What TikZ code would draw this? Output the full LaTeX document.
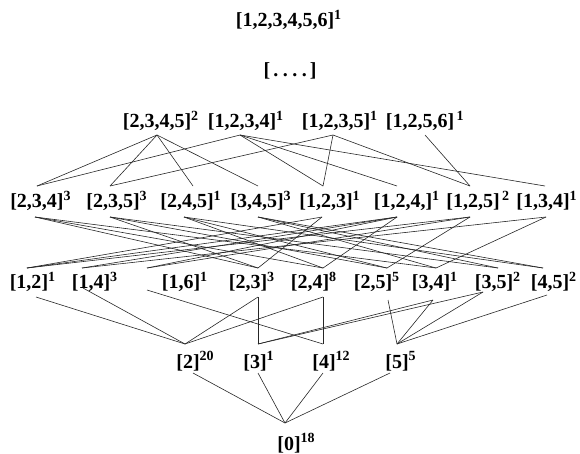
\documentclass[tikz,border=0pt]{standalone}
\usepackage{fontspec}
\setmainfont{Liberation Serif}
\usetikzlibrary{calc}
\begin{document}
\begin{tikzpicture}[x=1pt,y=-1pt,
  set/.style={inner sep=0pt,font=\fontsize{20}{22}\selectfont\bfseries},
  edge/.style={line width=0.6pt,black!85}]
\useasboundingbox (0,0) rectangle (580,453);
\newcommand\sz[2]{#1\rlap{\textsuperscript{#2}}}
% top
\node[set] (ntop) at (285,20) {\sz{[1,2,3,4,5,6]}{1}};
\node[set] (ndots) at (290,71) {[\hskip3pt.\hskip4.5pt.\hskip4.5pt.\hskip4.5pt.\hskip3pt]};
% four-element sets
\node[set] (n2345) at (157,121) {\sz{[2,3,4,5]}{2}};
\node[set] (n1234) at (242,121) {\sz{[1,2,3,4]}{1}};
\node[set] (n1235) at (336,121) {\sz{[1,2,3,5]}{1}};
\node[set] (n1256) at (420,121) {\sz{[1,2,5,6]}{\,1}};
% three-element sets
\node[set] (n234) at (37,201) {\sz{[2,3,4]}{3}};
\node[set] (n235) at (113,201) {\sz{[2,3,5]}{3}};
\node[set] (n245) at (187,201) {\sz{[2,4,5]}{1}};
\node[set] (n345) at (257,201) {\sz{[3,4,5]}{3}};
\node[set] (n123) at (326,201) {\sz{[1,2,3]}{1}};
\node[set] (n124) at (403,201) {\sz{[1,2,4,]}{1}};
\node[set] (n125) at (473,201) {\sz{[1,2,5]}{\,2}};
\node[set] (n134) at (543,201) {\sz{[1,3,4]}{1}};
% two-element sets
\node[set] (n12) at (29,282) {\sz{[1,2]}{1}};
\node[set] (n14) at (91,282) {\sz{[1,4]}{3}};
\node[set] (n16) at (181,282) {\sz{[1,6]}{1}};
\node[set] (n23) at (248,282) {\sz{[2,3]}{3}};
\node[set] (n24) at (310,282) {\sz{[2,4]}{8}};
\node[set] (n25) at (373,282) {\sz{[2,5]}{5}};
\node[set] (n34) at (431,282) {\sz{[3,4]}{1}};
\node[set] (n35) at (494,282) {\sz{[3,5]}{2}};
\node[set] (n45) at (550,282) {\sz{[4,5]}{2}};
% singletons
\node[set] (n2) at (188,361) {\sz{[2]}{20}};
\node[set] (n3) at (255,361) {\sz{[3]}{1}};
\node[set] (n4) at (324,361) {\sz{[4]}{12}};
\node[set] (n5) at (397,361) {\sz{[5]}{5}};
\node[set] (n0) at (289,443) {\sz{[0]}{18}};

% attachment points (dx of top, dx of bottom, dy of bottom)
\path (n2345) ++(0,14) coordinate (b2345);
\path (n1234) ++(-2,14) coordinate (b1234);
\path (n1235) ++(-3,14) coordinate (b1235);
\path (n1256) ++(5,14) coordinate (b1256);
\foreach \n/\dx/\dxb in {234/0/-2,235/-3/-3,245/6/-3,345/1/1,123/-3/-4,124/-6/-6,125/-3/-3,134/2/3}{
  \path (n\n) ++(\dx,-15) coordinate (t\n);
  \path (n\n) ++(\dxb,16) coordinate (b\n);
}
\foreach \n/\dx/\dxb/\dyb in {12/-2/7/15,14/-9/-8/6,16/-34/-34/8,23/10/10/15,24/13/13/15,
                              25/14/15/18,34/5/2/18,35/4/-11/10,45/-7/-3/13}{
  \path (n\n) ++(\dx,-14) coordinate (t\n);
  \path (n\n) ++(\dxb,\dyb) coordinate (b\n);
}
\foreach \n/\dx/\dxb in {2/-3/5,3/3/3,4/-1/-1,5/0/-7}{
  \path (n\n) ++(\dx,-17) coordinate (t\n);
  \path (n\n) ++(\dxb,12) coordinate (b\n);
}
\path (n0) ++(-4,-20) coordinate (t0);

% four-element sets to three-element sets
\foreach \a/\b in {2345/234,2345/235,2345/245,2345/345,
                   1234/234,1234/123,1234/124,1234/134,
                   1235/235,1235/123,1235/125,1256/125}
  \draw[edge] (b\a) -- (t\b);
% three-element sets to two-element sets
\foreach \a/\b in {234/23,234/24,234/34,235/23,235/25,235/35,
                   245/24,245/25,245/45,345/34,345/35,345/45,
                   123/12,123/23,124/12,124/14,124/24,125/12,125/25,
                   134/14,134/34,124/16,125/16}
  \draw[edge] (b\a) -- (t\b);
% two-element sets to singletons
\foreach \a/\b in {12/2,14/2,23/2,24/2,16/4,24/4,25/5,35/5,45/5,34/5}
  \draw[edge] (b\a) -- (t\b);
\draw[edge] (b23) -- (t3);
\draw[edge] (t3) -- (b34);
\draw[edge] (t3) -- (b35);
% singletons to the empty set
\foreach \a in {2,3,4,5}
  \draw[edge] (b\a) -- (t0);
\end{tikzpicture}
\end{document}
